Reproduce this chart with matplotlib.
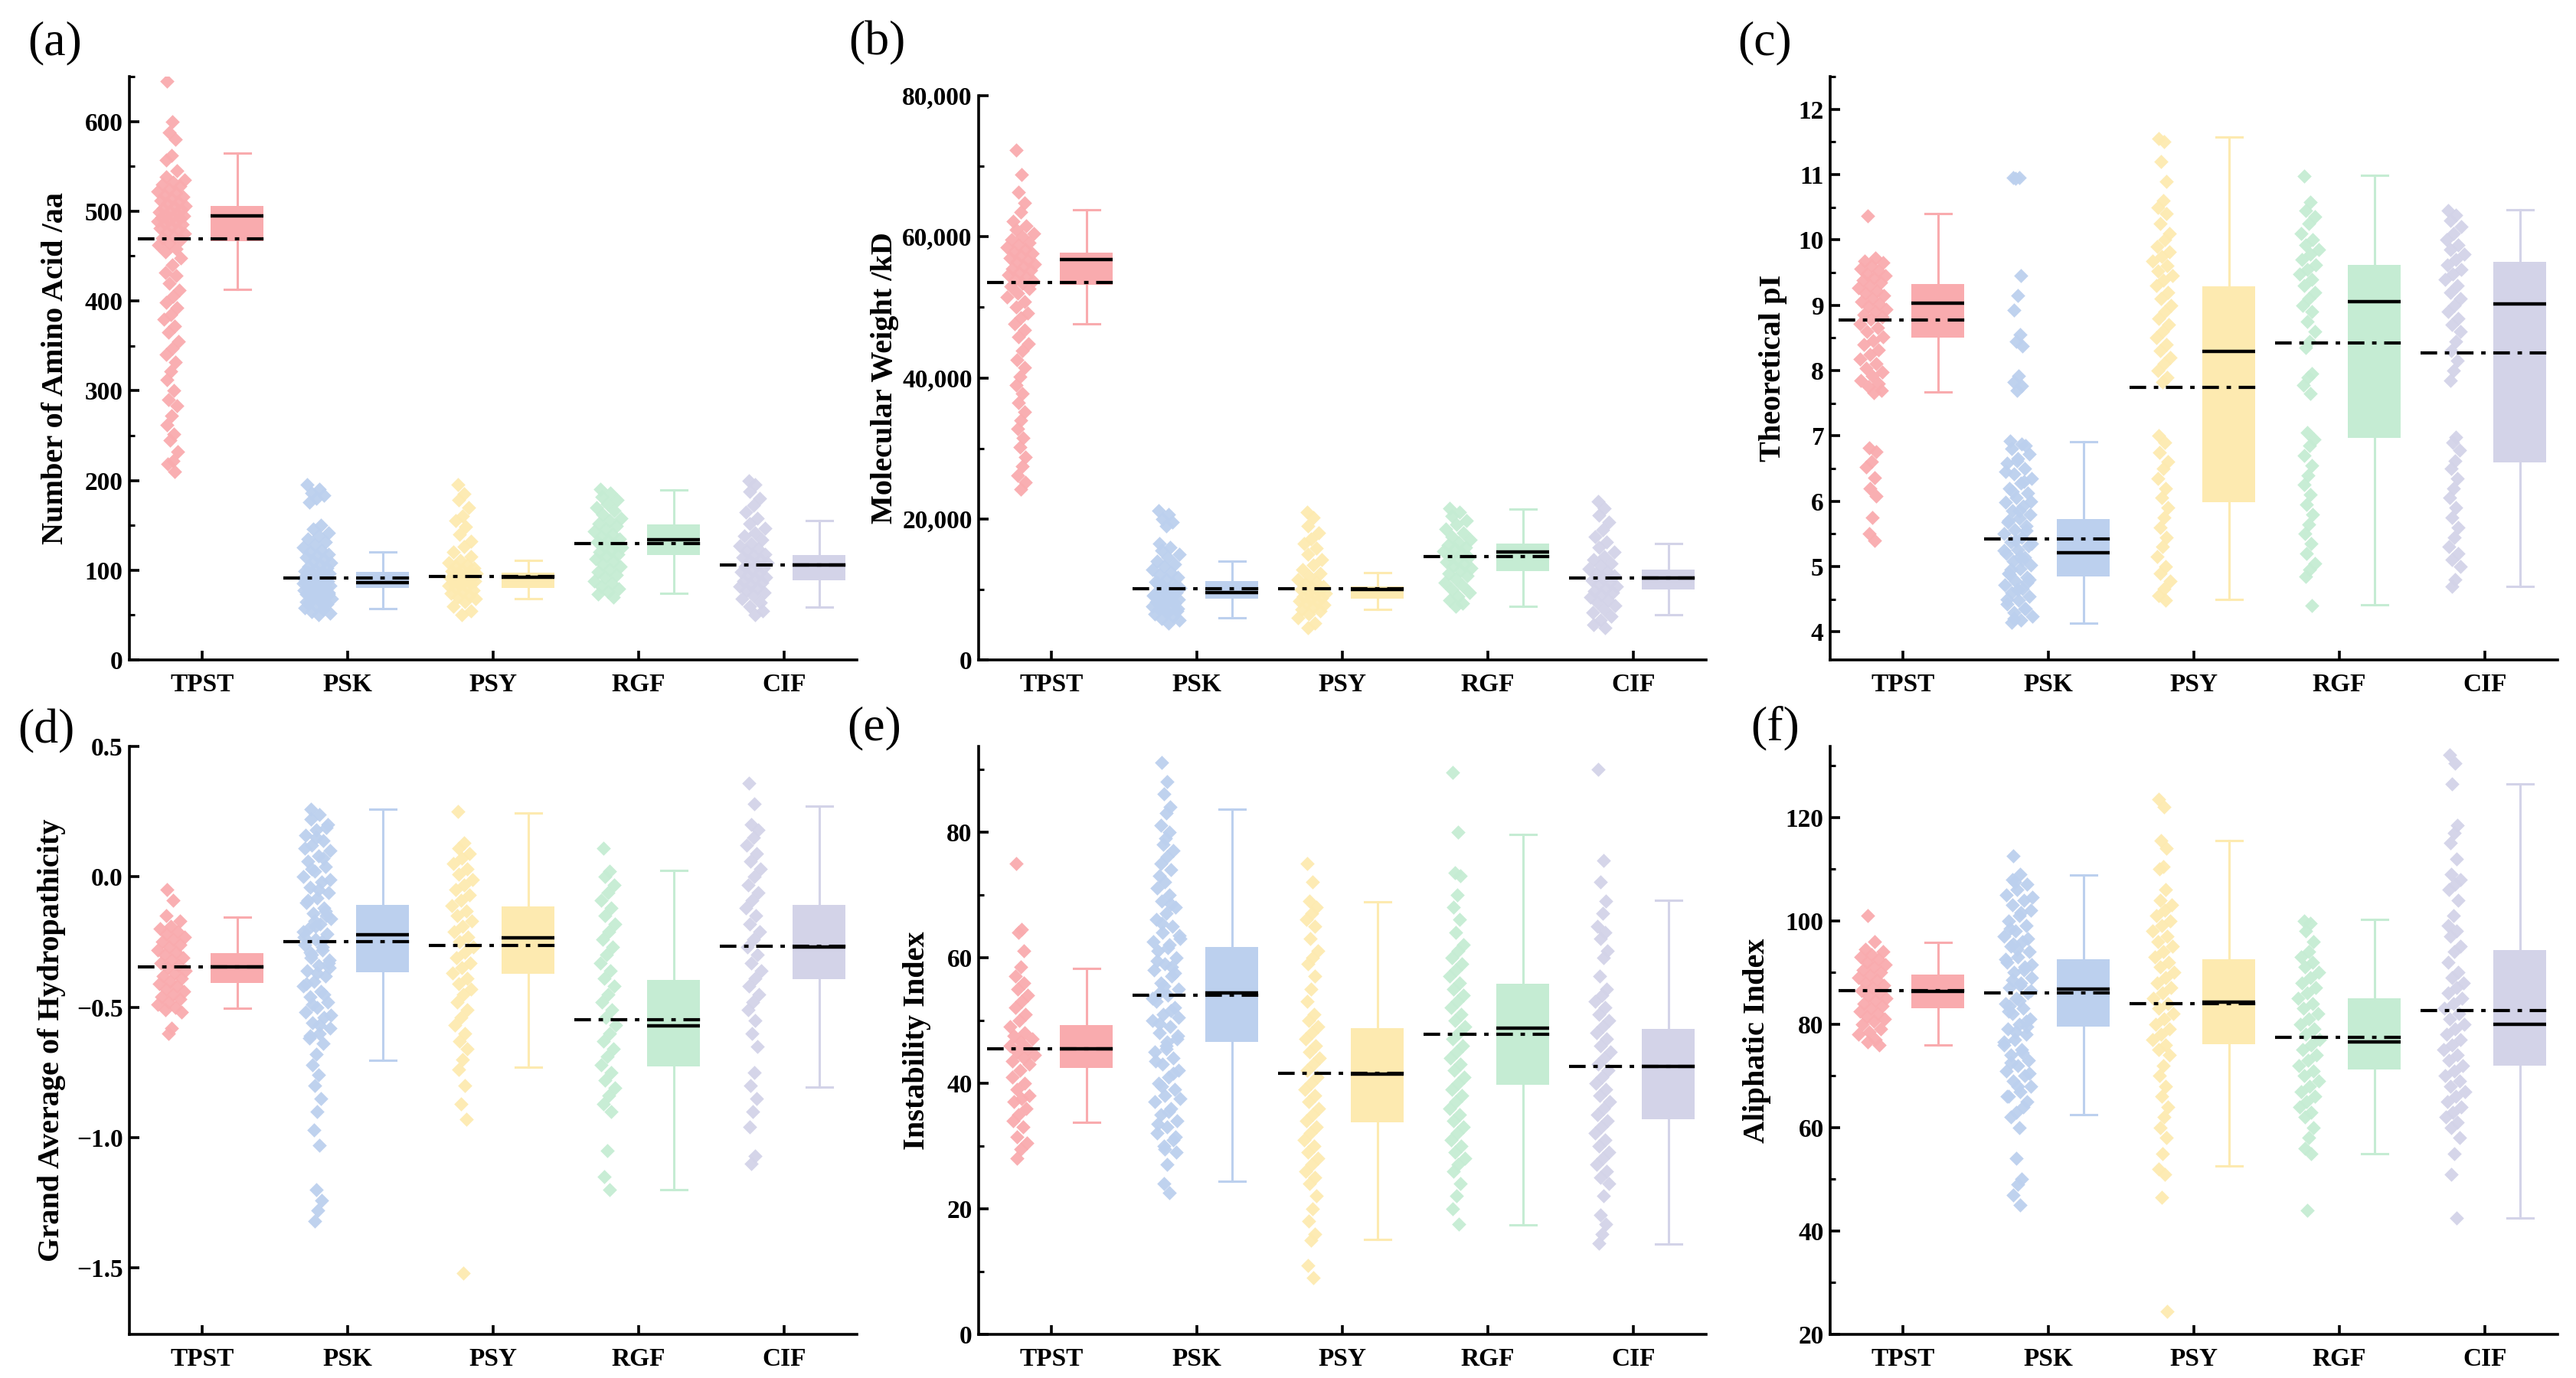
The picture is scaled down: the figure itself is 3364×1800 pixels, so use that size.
import numpy as np
import matplotlib
matplotlib.use("Agg")
import matplotlib.pyplot as plt
from matplotlib.ticker import MultipleLocator, FuncFormatter

groups = ['TPST', 'PSK', 'PSY', 'RGF', 'CIF']
group_colors = ['#F9ABAE', '#BCD0EE', '#FDEAB0', '#C5ECD3', '#D3D3E8']

# ---- (a) number of amino acids ----
aa_tpst = [645, 600, 588, 580, 562, 557, 545, 538, 535, 532, 530, 528, 525, 522, 520, 518, 516, 514, 512,
           510, 508, 506, 505, 503, 502, 500, 499, 498, 496, 495, 494, 493, 492, 490, 489, 488, 486, 485,
           483, 481, 479, 477, 475, 472, 470, 468, 465, 462, 458, 455, 448, 440, 432, 428, 420, 412, 405,
           398, 392, 385, 380, 372, 365, 355, 347, 340, 332, 322, 312, 300, 290, 283, 272, 262, 252, 245,
           232, 222, 218, 210]
aa_psk = [195, 190, 186, 183, 180, 176, 150, 146, 142, 138, 135, 131, 128, 125, 122, 120, 118, 116, 114,
          112, 110, 108, 106, 104, 102, 100, 99, 98, 97, 96, 95, 94, 93, 92, 91, 90, 89, 88, 87, 86, 85,
          84, 83, 82, 81, 80, 79, 78, 77, 76, 75, 74, 73, 72, 70, 68, 66, 64, 62, 60, 58, 56, 54, 52, 50,
          97, 93, 89, 85, 81, 77, 73, 69, 65, 61]
aa_psy = [195, 185, 178, 170, 160, 155, 148, 140, 132, 126, 120, 115, 111, 108, 106, 104, 102, 100, 99,
          98, 97, 96, 95, 94, 93, 92, 91, 90, 89, 88, 87, 86, 85, 84, 83, 82, 80, 78, 76, 74, 72, 70, 68,
          65, 60, 55, 50]
aa_rgf = [190, 186, 182, 178, 174, 170, 166, 162, 158, 155, 152, 149, 146, 143, 140, 137, 135, 133, 131,
          129, 127, 125, 122, 120, 118, 116, 113, 110, 107, 104, 101, 98, 95, 92, 88, 85, 82, 79, 76, 73, 70]
aa_cif = [200, 195, 188, 180, 172, 165, 158, 152, 147, 142, 138, 134, 130, 127, 124, 121, 118, 116, 114,
          112, 110, 108, 106, 104, 102, 100, 98, 96, 94, 92, 90, 88, 86, 84, 82, 80, 78, 75, 72, 68, 64,
          60, 55, 50]
# whisker low, q1, median, q3, whisker high
aa_box = [[413, 467, 495, 505.5, 565], [57, 80, 86, 97.7, 120], [68, 80, 92, 97, 111],
          [74, 117, 134, 151, 189], [59, 89, 106, 117, 155]]
aa_mean = [469, 91.5, 93, 130, 106]

# ---- (b) molecular weight ----
mw_tpst = [72300, 68800, 66300, 64800, 63500, 62200, 61500, 61000, 60500, 60000, 59600, 59200, 58800,
           58500, 58200, 57900, 57600, 57300, 57000, 56700, 56400, 56100, 55800, 55500, 55200, 54900,
           54600, 54300, 54000, 53700, 53400, 53000, 52600, 52000, 51400, 50800, 50000, 49200, 48500,
           47600, 46800, 45800, 44800, 43800, 42600, 41500, 40200, 39000, 37800, 36500, 35200, 34000,
           32800, 31500, 30200, 28800, 27500, 26200, 25200, 24200]
mw_psk = [21200, 20600, 20000, 19500, 19000, 16500, 16000, 15500, 15000, 14500, 14000, 13600, 13200,
          12800, 12400, 12000, 11700, 11400, 11100, 10800, 10500, 10200, 10000, 9800, 9600, 9400, 9200,
          9000, 8800, 8600, 8400, 8200, 8000, 7800, 7600, 7400, 7200, 7000, 6800, 6500, 6200, 5900, 5600,
          5200, 10900, 10300, 9700, 9100, 8500, 7900, 7300, 6700]
mw_psy = [21000, 20200, 19000, 18000, 17200, 16500, 15800, 15000, 14200, 13500, 12800, 12300, 11800,
          11400, 11000, 10700, 10400, 10200, 10000, 9800, 9600, 9400, 9200, 9000, 8800, 8600, 8400, 8200,
          8000, 7800, 7500, 7200, 6900, 6500, 6000, 5200, 4600]
mw_rgf = [21500, 21000, 20400, 19800, 19200, 18600, 18000, 17500, 17000, 16600, 16300, 16000, 15700,
          15400, 15100, 14800, 14500, 14200, 13900, 13600, 13300, 13000, 12700, 12300, 11900, 11500,
          11000, 10500, 10000, 9500, 9000, 8500, 8000, 7600]
mw_cif = [22500, 21500, 20500, 19500, 18500, 17500, 16700, 16000, 15300, 14700, 14200, 13700, 13300,
          12900, 12500, 12200, 11900, 11600, 11300, 11000, 10700, 10400, 10100, 9800, 9500, 9200, 8900,
          8500, 8100, 7700, 7200, 6700, 6200, 5600, 5000, 4600]
mw_box = [[47600, 53200, 56800, 57800, 63800], [5950, 8650, 9550, 11200, 14050],
          [7200, 8650, 9950, 10450, 12400], [7600, 12600, 15300, 16500, 21400],
          [6400, 10000, 11600, 12800, 16500]]
mw_mean = [53500, 10100, 10100, 14600, 11600]

# ---- (c) theoretical pI ----
pi_tpst = [10.37, 9.72, 9.68, 9.65, 9.6, 9.56, 9.52, 9.48, 9.45, 9.42, 9.38, 9.35, 9.3, 9.26, 9.22, 9.18,
           9.15, 9.1, 9.06, 9.02, 8.98, 8.94, 8.9, 8.86, 8.82, 8.78, 8.72, 8.66, 8.6, 8.52, 8.46, 8.4, 8.32,
           8.25, 8.18, 8.1, 8.03, 7.98, 7.92, 7.85, 7.8, 7.75, 7.7, 7.66, 6.82, 6.76, 6.6, 6.52, 6.36, 6.2,
           6.08, 5.75, 5.5, 5.4]
pi_psk = [10.95, 10.95, 10.94, 9.45, 9.15, 8.93, 8.55, 8.45, 8.38, 7.92, 7.82, 7.76, 7.7, 6.92, 6.88, 6.8,
          6.72, 6.65, 6.58, 6.5, 6.42, 6.35, 6.28, 6.2, 6.12, 6.05, 5.98, 5.92, 5.86, 5.8, 5.74, 5.68, 5.62,
          5.56, 5.5, 5.44, 5.38, 5.32, 5.26, 5.2, 5.14, 5.08, 5.02, 4.96, 4.9, 4.84, 4.78, 4.72, 4.66, 4.6,
          4.54, 4.48, 4.42, 4.36, 4.3, 4.24, 4.18, 4.14, 6.85, 6.62, 6.45, 6.3, 6.15, 6.0, 5.85, 5.7, 5.55,
          5.4, 5.25, 5.1, 4.95, 4.8, 4.65, 4.5, 4.35, 4.2, 5.35, 5.15, 4.88, 4.75]
pi_psy = [11.55, 11.5, 11.2, 10.9, 10.6, 10.5, 10.4, 10.25, 10.1, 10.0, 9.9, 9.82, 9.75, 9.68, 9.6, 9.52,
          9.45, 9.38, 9.3, 9.2, 9.1, 9.0, 8.9, 8.8, 8.7, 8.6, 8.5, 8.4, 8.3, 8.2, 8.1, 8.0, 7.9, 7.82, 7.0,
          6.9, 6.75, 6.6, 6.5, 6.35, 6.2, 6.05, 5.9, 5.75, 5.6, 5.45, 5.3, 5.15, 5.0, 4.9, 4.78, 4.66, 4.56,
          4.48]
pi_rgf = [10.98, 10.58, 10.45, 10.35, 10.25, 10.1, 10.0, 9.92, 9.85, 9.78, 9.7, 9.62, 9.55, 9.48, 9.4, 9.3,
          9.2, 9.1, 9.0, 8.9, 8.75, 8.6, 8.45, 8.35, 7.95, 7.9, 7.78, 7.65, 7.05, 6.95, 6.85, 6.7, 6.55, 6.4,
          6.25, 6.1, 5.95, 5.8, 5.65, 5.5, 5.35, 5.2, 5.05, 4.95, 4.85, 4.4]
pi_cif = [10.45, 10.38, 10.3, 10.2, 10.1, 10.0, 9.92, 9.85, 9.78, 9.7, 9.62, 9.55, 9.48, 9.4, 9.3, 9.2,
          9.1, 9.0, 8.9, 8.8, 8.7, 8.6, 8.45, 8.3, 8.15, 8.0, 7.85, 6.98, 6.9, 6.78, 6.62, 6.5, 6.35, 6.2,
          6.05, 5.9, 5.75, 5.6, 5.45, 5.3, 5.2, 5.1, 5.0, 4.8, 4.7]
pi_box = [[7.67, 8.50, 9.03, 9.32, 10.4], [4.13, 4.85, 5.21, 5.73, 6.91], [4.49, 5.98, 8.29, 9.29, 11.57],
          [4.41, 6.97, 9.06, 9.62, 10.99], [4.70, 6.59, 9.02, 9.66, 10.46]]
pi_mean = [8.77, 5.42, 7.74, 8.42, 8.27]

# ---- (d) GRAVY ----
gv_tpst = [-0.05, -0.09, -0.15, -0.17, -0.19, -0.2, -0.21, -0.22, -0.23, -0.24, -0.25, -0.26, -0.27,
           -0.28, -0.29, -0.3, -0.31, -0.32, -0.33, -0.34, -0.35, -0.36, -0.37, -0.38, -0.39, -0.4, -0.41,
           -0.42, -0.43, -0.44, -0.45, -0.46, -0.47, -0.48, -0.49, -0.5, -0.51, -0.52, -0.58, -0.6]
gv_psk = [0.26, 0.24, 0.22, 0.2, 0.18, 0.16, 0.14, 0.12, 0.1, 0.08, 0.06, 0.04, 0.02, 0.0, -0.02, -0.04,
          -0.06, -0.08, -0.1, -0.12, -0.14, -0.16, -0.18, -0.2, -0.22, -0.24, -0.26, -0.28, -0.3, -0.32,
          -0.34, -0.36, -0.38, -0.4, -0.42, -0.44, -0.46, -0.48, -0.5, -0.52, -0.54, -0.56, -0.58, -0.6,
          -0.62, -0.64, -0.68, -0.72, -0.76, -0.8, -0.85, -0.9, -0.97, -1.03, -1.2, -1.24, -1.28, -1.32,
          0.19, 0.15, 0.11, 0.07, 0.03, -0.01, -0.05, -0.09, -0.13, -0.17, -0.21, -0.25, -0.29, -0.33,
          -0.37, -0.41, -0.45, -0.49, -0.53, -0.57, -0.61, -0.15, -0.19, -0.23, -0.27, -0.31, -0.35]
gv_psy = [0.25, 0.13, 0.11, 0.09, 0.07, 0.05, 0.03, 0.01, -0.01, -0.03, -0.05, -0.07, -0.09, -0.11, -0.13,
          -0.15, -0.17, -0.19, -0.21, -0.23, -0.25, -0.27, -0.29, -0.31, -0.33, -0.35, -0.37, -0.39, -0.41,
          -0.43, -0.45, -0.48, -0.51, -0.54, -0.57, -0.6, -0.63, -0.66, -0.7, -0.74, -0.8, -0.87, -0.93,
          -1.52]
gv_rgf = [0.11, 0.02, 0.0, -0.03, -0.06, -0.09, -0.12, -0.15, -0.18, -0.21, -0.24, -0.27, -0.3, -0.33,
          -0.36, -0.39, -0.42, -0.45, -0.48, -0.51, -0.54, -0.57, -0.6, -0.63, -0.66, -0.69, -0.72, -0.75,
          -0.78, -0.81, -0.84, -0.87, -0.9, -1.05, -1.15, -1.2]
gv_cif = [0.36, 0.28, 0.2, 0.18, 0.15, 0.12, 0.09, 0.06, 0.03, 0.0, -0.03, -0.06, -0.09, -0.12, -0.15,
          -0.18, -0.21, -0.24, -0.27, -0.3, -0.33, -0.36, -0.39, -0.42, -0.45, -0.48, -0.51, -0.55, -0.6,
          -0.65, -0.75, -0.8, -0.85, -0.9, -0.96, -1.07, -1.1]
gv_box = [[-0.503, -0.407, -0.345, -0.293, -0.155], [-0.703, -0.366, -0.221, -0.107, 0.259],
          [-0.729, -0.371, -0.233, -0.114, 0.245], [-1.20, -0.728, -0.572, -0.397, 0.024],
          [-0.807, -0.393, -0.269, -0.107, 0.272]]
gv_mean = [-0.347, -0.248, -0.262, -0.547, -0.266]

# ---- (e) instability index ----
ii_tpst = [75, 64.5, 64, 61, 58.5, 57, 56, 55, 54, 53, 52, 51, 50, 49, 48, 47.5, 47, 46.5, 46, 45.5, 45,
           44.5, 44, 43.5, 43, 42, 41, 40, 39, 38, 37.5, 37, 36, 35, 34, 33, 31.5, 30.5, 29.5, 28]
ii_psk = [91, 88, 86, 84, 83, 81, 80, 78, 77, 76, 75, 74, 72, 71, 70, 69, 68, 67, 66, 65, 64, 63, 62, 61,
          60, 59, 58, 57, 56, 55, 54, 53, 52, 51, 50, 49, 48, 47, 46, 45, 44, 43, 42, 41, 40, 39, 38, 37,
          36, 35, 34, 33, 32, 31, 30, 29, 27, 24, 22.5, 79, 73, 68.5, 65.5, 63.5, 61.5, 59.5, 57.5, 55.5,
          53.5, 51.5, 49.5, 47.5, 45.5, 43.5, 41.5, 39.5, 37.5, 35.5, 33.5, 31.5, 29.5, 62.5, 58.5, 54.5,
          50.5, 46.5]
ii_psy = [75, 72, 69, 68, 67, 66, 65, 63, 61, 60, 59, 57, 55, 53, 51, 50, 49, 48, 47, 46, 45, 44, 43, 42,
          41, 40, 39, 38, 37, 36, 35, 34, 33, 32, 31, 30, 29, 28, 27, 26, 25, 24, 22, 20, 18, 16, 15, 11, 9]
ii_rgf = [89.5, 80, 73.5, 73, 70, 68, 66, 64, 62, 61, 60, 59, 58, 57, 56, 55, 54, 53, 52, 51, 50, 49, 48,
          47, 46, 45, 44, 43, 42, 41, 40, 39, 38, 37, 36, 35, 34, 33, 32, 31, 30, 29, 28, 27, 26, 24, 22,
          20, 17.5]
ii_cif = [90, 75.5, 72, 69, 67, 65, 64, 63, 61, 60, 57, 55, 54, 53, 52, 51, 50, 49, 48, 47, 46, 45, 44, 43,
          42, 41, 40, 39, 38, 37, 36, 35, 34, 33, 32, 31, 30, 29, 28, 27, 26, 25, 24, 22, 19, 17.5, 16, 14.5]
ii_box = [[33.7, 42.4, 45.5, 49.2, 58.3], [24.4, 46.5, 54.4, 61.7, 83.6], [15.1, 33.8, 41.4, 48.8, 68.8],
          [17.4, 39.7, 48.8, 55.8, 79.6], [14.4, 34.3, 42.7, 48.6, 69.1]]
ii_mean = [45.5, 54.0, 41.6, 47.8, 42.7]

# ---- (f) aliphatic index ----
al_tpst = [101, 96, 94.5, 94, 93.5, 93, 92.5, 92, 91.5, 91, 90.5, 90, 89.5, 89, 88.5, 88, 87.5, 87, 86.5,
           86, 85.5, 85, 84.5, 84, 83.5, 83, 82.5, 82, 81.5, 81, 80.5, 80, 79, 78.5, 78, 77, 76.5, 76]
al_psk = [112.5, 109, 108, 107, 106, 105, 104, 103, 102, 101, 100, 99, 98, 97, 96, 95, 94, 93, 92, 91, 90,
          89, 88, 87, 86, 85, 84, 83, 82, 81, 80, 79, 78, 77, 76, 75, 74, 73, 72, 71, 70, 69, 68, 67, 66,
          65, 63, 62, 60, 54, 50, 49, 47, 45, 107.5, 104.5, 101.5, 98.5, 96.5, 94.5, 92.5, 90.5, 88.5,
          86.5, 84.5, 82.5, 80.5, 78.5, 76.5, 74.5, 72.5, 70.5, 68, 66, 64, 95.5, 91.5, 87.5, 83.5, 79.5]
al_psy = [123.5, 122, 115.5, 114, 110.5, 110, 106, 104, 103, 102, 101, 100, 99, 98, 97, 96, 95, 94, 93, 92,
          91, 90, 89, 88, 87, 86, 85, 84, 83, 82, 81, 80, 79, 78, 77, 76, 75, 74, 72, 70, 68, 66, 64, 62,
          60, 58, 55, 52, 51, 46.5, 24.5]
al_rgf = [100, 99.5, 98, 96, 94, 93, 92, 91, 90, 89, 88, 87, 86, 85, 84, 83, 82, 81, 80, 79, 78, 77, 76,
          75, 74, 73, 72, 71, 70, 69, 68, 67, 66, 65, 64, 63, 62, 60, 58, 56, 55, 44]
al_cif = [132, 130.5, 126.5, 118.5, 117, 115, 112, 109, 108, 107, 106, 104, 101, 99, 98, 97, 95, 94, 92,
          90, 89, 88, 87, 86, 85, 84, 83, 82, 81, 80, 79, 78, 77, 76, 75, 74, 73, 72, 71, 70, 69, 68, 67,
          66, 65, 64, 63, 62, 61, 60, 58, 55, 51, 42.5]
al_box = [[76.0, 83.1, 86.3, 89.6, 95.8], [62.5, 79.5, 86.8, 92.5, 108.9], [52.6, 76.1, 84.2, 92.5, 115.5],
          [55.0, 71.2, 76.5, 85.0, 100.2], [42.5, 72.0, 80.0, 94.3, 126.5]]
al_mean = [86.4, 86.0, 83.9, 77.5, 82.6]

W, H = 3364, 1800
plt.rcParams['font.family'] = ['Liberation Serif', 'DejaVu Serif']
fig = plt.figure(figsize=(W / 100, H / 100), dpi=100)

comma_fmt = FuncFormatter(lambda v, p: '{:,.0f}'.format(v))
int_fmt = FuncFormatter(lambda v, p: '{:.0f}'.format(v))
one_fmt = FuncFormatter(lambda v, p: '{:.1f}'.format(v).replace('-', '\u2212'))

# label, ylabel, points, box, mean, ylim, major, minor, formatter,
# (left, top, bottom) px, ylabel x, panel-label centre px
panels = [
    ('(a)', 'Number of Amino Acid /aa', [aa_tpst, aa_psk, aa_psy, aa_rgf, aa_cif], aa_box, aa_mean,
     (0, 650), 100, 50, int_fmt, (169, 100, 862), -0.082, (72, 56)),
    ('(b)', 'Molecular Weight /kD', [mw_tpst, mw_psk, mw_psy, mw_rgf, mw_cif], mw_box, mw_mean,
     (0, 80000), 20000, 10000, comma_fmt, (1278, 125, 862), -0.11, (1145, 56)),
    ('(c)', 'Theoretical pI', [pi_tpst, pi_psk, pi_psy, pi_rgf, pi_cif], pi_box, pi_mean,
     (3.57, 12.5), 1, 0.5, int_fmt, (2390, 100, 862), -0.059, (2305, 56)),
    ('(d)', 'Grand Average of Hydropathicity', [gv_tpst, gv_psk, gv_psy, gv_rgf, gv_cif], gv_box, gv_mean,
     (-1.755, 0.5), 0.5, None, one_fmt, (169, 975, 1743), -0.087, (60, 955)),
    ('(e)', 'Instability Index', [ii_tpst, ii_psk, ii_psy, ii_rgf, ii_cif], ii_box, ii_mean,
     (0, 93.6), 20, 10, int_fmt, (1278, 975, 1743), -0.065, (1142, 951)),
    ('(f)', 'Aliphatic Index', [al_tpst, al_psk, al_psy, al_rgf, al_cif], al_box, al_mean,
     (20, 133.7), 20, 10, int_fmt, (2390, 975, 1743), -0.081, (2318, 951)),
]

ax_w = 950
scatter_off = -0.21
box_off = 0.24
xpos = np.arange(len(groups))


def swarm_offsets(vals, span):
    # wider spread where points are crowded, narrow column in the tails
    close = np.abs(vals[:, None] - vals[None, :]) < span * 0.03
    crowd = np.clip(close.sum(axis=1) / 9.0, 0.3, 1.0)
    base = (np.arange(len(vals)) * 0.618034) % 1.0 - 0.5
    return base * 0.2 * crowd


for label, ylabel, pts, box, means, ylim, major, minor, fmt, (lpx, tpx, bpx), labx, (tx, ty) in panels:
    ax = fig.add_axes([lpx / W, 1 - bpx / H, ax_w / W, (bpx - tpx) / H])
    span = ylim[1] - ylim[0]

    for i, vals in enumerate(pts):
        vals = np.asarray(vals, dtype=float)
        ax.scatter(xpos[i] + scatter_off + swarm_offsets(vals, span), vals, s=90, marker='D',
                   color=group_colors[i], linewidths=0, alpha=0.95, zorder=2)

    stats = [dict(whislo=b[0], q1=b[1], med=b[2], q3=b[3], whishi=b[4], fliers=[]) for b in box]
    bp = ax.bxp(stats, positions=xpos + box_off, widths=0.36, capwidths=0.18, patch_artist=True,
                showfliers=False, manage_ticks=False,
                medianprops=dict(color='black', linewidth=3.2, solid_capstyle='butt'))
    for i in range(len(groups)):
        bp['boxes'][i].set_facecolor(group_colors[i])
        bp['boxes'][i].set_edgecolor('none')
        bp['boxes'][i].set_zorder(2)
        for art in bp['whiskers'][2 * i:2 * i + 2] + bp['caps'][2 * i:2 * i + 2]:
            art.set_color(group_colors[i])
            art.set_linewidth(2.2)
            art.set_zorder(1)
        bp['medians'][i].set_zorder(4)

    ax.hlines(means, xpos - 0.44, xpos + 0.44, colors='black', linewidth=3,
              linestyles=[(0, (5.2, 2.4, 1.4, 2.4))], zorder=5)

    ax.set_xlim(-0.5, 4.5)
    ax.set_ylim(*ylim)
    ax.set_xticks(xpos)
    ax.set_xticklabels(groups)
    ax.yaxis.set_major_locator(MultipleLocator(major))
    if minor:
        ax.yaxis.set_minor_locator(MultipleLocator(minor))
    ax.yaxis.set_major_formatter(fmt)

    for s in ['top', 'right']:
        ax.spines[s].set_visible(False)
    for s in ['left', 'bottom']:
        ax.spines[s].set_linewidth(2.6)
    ax.tick_params(axis='both', which='major', direction='in', length=9, width=2.6)
    ax.tick_params(axis='y', which='major', labelsize=24, pad=6)
    ax.tick_params(axis='x', which='major', labelsize=24, pad=12)
    ax.tick_params(axis='y', which='minor', direction='in', length=5, width=2.2)
    for t in ax.get_xticklabels() + ax.get_yticklabels():
        t.set_fontweight('bold')

    ax.set_ylabel(ylabel, fontsize=29, fontweight='bold')
    ax.yaxis.set_label_coords(labx, 0.5)

    fig.text(tx / W, 1 - ty / H, label, fontsize=46, ha='center', va='center')

fig.savefig('out.png', dpi=100)
